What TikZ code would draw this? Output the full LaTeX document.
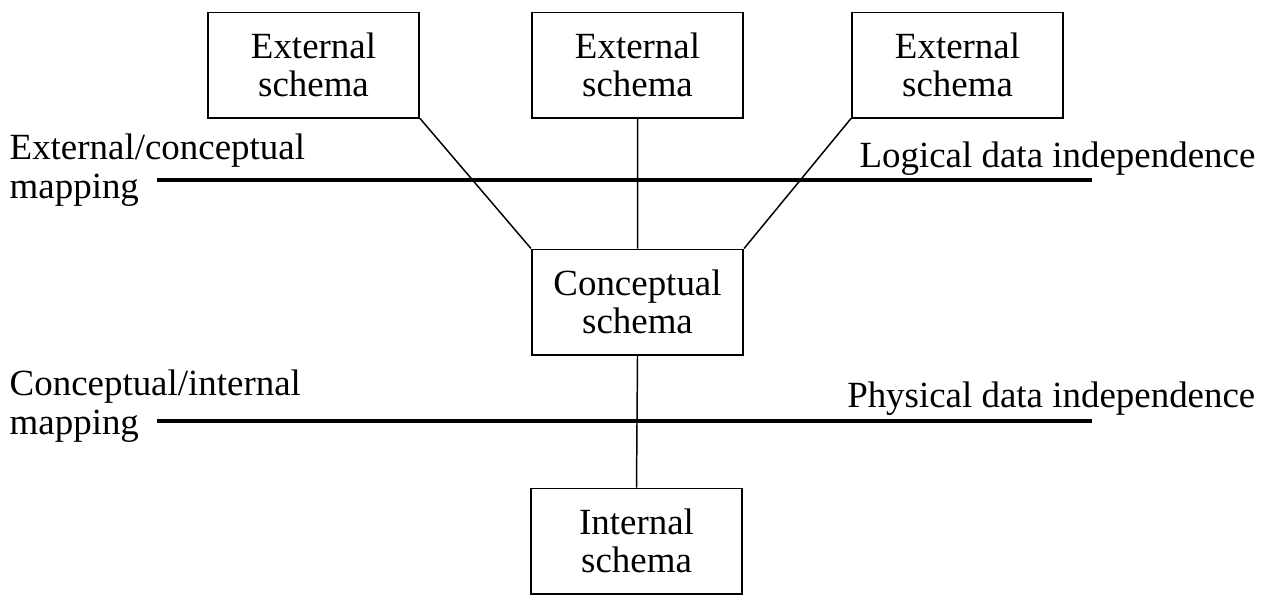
\documentclass[tikz,border=0pt]{standalone}
\usepackage{fontspec}
\setmainfont{Liberation Serif}
\begin{document}
\begin{tikzpicture}[x=0.01cm, y=-0.01cm]
      %% Styles
      \tikzset
      {
      schema/.style={rectangle, draw, line width=0.55pt, inner sep=0pt, minimum width=2.11cm, minimum height=1.05cm, align=center, font=\fontsize{10.5}{11}\selectfont},
      label/.style={inner sep=0pt, align=left, font=\fontsize{10.5}{11}\selectfont},
      level/.style={line width=1.15pt},
      link/.style={line width=0.42pt}
      }
      \useasboundingbox (0,0) rectangle (1286,597);
      %% Schemas
      \node[schema] (ext1) at (313.5,65) {External\\schema};
      \node[schema] (ext2) at (637.5,65) {External\\schema};
      \node[schema] (ext3) at (957.5,65) {External\\schema};
      \node[schema] (concept) at (637.5,302) {Conceptual\\schema};
      \node[schema] (internal) at (636.5,541) {Internal\\schema};
      %% Mapping levels
      \coordinate (l1a) at (157,180);
      \coordinate (l1b) at (1092,180);
      \coordinate (l2a) at (157,421);
      \coordinate (l2b) at (1092,421);
      \draw[level] (l1a) -- (l1b);
      \draw[level] (l2a) -- (l2b);
      %% Labels (base = last line)
      \node[label, anchor=base west] (extmap) at (9,198) {External/conceptual\\mapping};
      \node[label, anchor=base east] (logical) at (1256,167) {Logical data independence};
      \node[label, anchor=base west] (intmap) at (9,434) {Conceptual/internal\\mapping};
      \node[label, anchor=base east] (physical) at (1256,407) {Physical data independence};
      %% Links
      \draw[link] (ext1.south east) -- (concept.north west)
      (ext2.south) -- (concept.north)
      (ext3.south west) -- (concept.north east)
      (concept.south) -- (internal.north);
\end{tikzpicture}
\end{document}
